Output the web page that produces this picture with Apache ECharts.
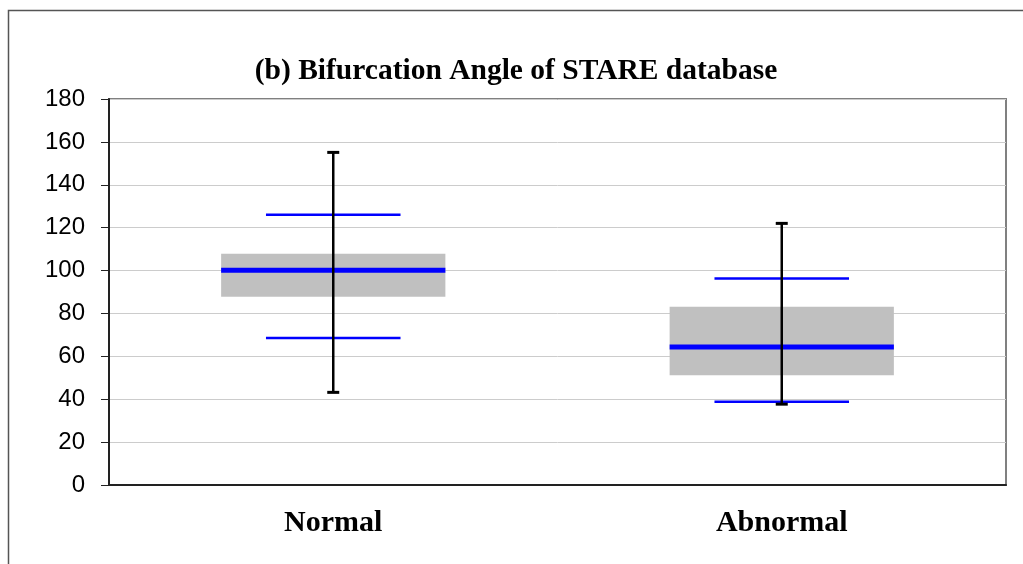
<!DOCTYPE html>
<html>
<head>
<meta charset="utf-8">
<style>
  html, body { margin: 0; padding: 0; background: #ffffff; }
  #chart { width: 1023px; height: 564px; }
</style>
<script src="https://cdn.jsdelivr.net/npm/echarts@6/dist/echarts.min.js"></script>
</head>
<body>
<div id="chart"></div>
<script>
// Bifurcation angle (degrees) for the two STARE groups
const categories = ['Normal', 'Abnormal'];
const boxLow     = [87.8, 51.2];   // lower edge of grey box
const boxHigh    = [107.8, 83.1];  // upper edge of grey box
const medianVal  = [100.2, 64.3];  // thick blue line
const sdLow      = [68.5, 38.8];   // lower thin blue line
const sdHigh     = [126.0, 96.3];  // upper thin blue line
const rangeMin   = [43.2, 37.7];   // bottom of black range bar
const rangeMax   = [155.1, 122.0]; // top of black range bar
const yTicks     = [0, 20, 40, 60, 80, 100, 120, 140, 160, 180];

const boxData = categories.map((c, i) => [
  i, boxLow[i], boxHigh[i], medianVal[i], sdLow[i], sdHigh[i], rangeMin[i], rangeMax[i]
]);

function renderBox(params, api) {
  const idx = api.value(0);
  const band = api.size([1, 0])[0];
  const cx = api.coord([idx, 0])[0];
  const yOf = v => api.coord([idx, v])[1];
  const boxHalf = band * 0.25;
  const sdHalf = band * 0.15;
  const capHalf = 6;
  const yBL = yOf(api.value(1)), yBH = yOf(api.value(2));
  const yMed = yOf(api.value(3));
  const ySL = yOf(api.value(4)), ySH = yOf(api.value(5));
  const yMin = yOf(api.value(6)), yMax = yOf(api.value(7));
  const blue = '#0000ff';
  return {
    type: 'group',
    children: [
      { type: 'rect', shape: { x: cx - boxHalf, y: yBH, width: boxHalf * 2, height: yBL - yBH },
        style: { fill: '#c0c0c0' } },
      { type: 'line', shape: { x1: cx - boxHalf, y1: yMed, x2: cx + boxHalf, y2: yMed },
        style: { stroke: blue, lineWidth: 5 } },
      { type: 'line', shape: { x1: cx - sdHalf, y1: ySH, x2: cx + sdHalf, y2: ySH },
        style: { stroke: blue, lineWidth: 2.5 } },
      { type: 'line', shape: { x1: cx - sdHalf, y1: ySL, x2: cx + sdHalf, y2: ySL },
        style: { stroke: blue, lineWidth: 2.5 } },
      { type: 'line', shape: { x1: cx, y1: yMax, x2: cx, y2: yMin },
        style: { stroke: '#000000', lineWidth: 2.5 } },
      { type: 'line', shape: { x1: cx - capHalf, y1: yMax, x2: cx + capHalf, y2: yMax },
        style: { stroke: '#000000', lineWidth: 3 } },
      { type: 'line', shape: { x1: cx - capHalf, y1: yMin, x2: cx + capHalf, y2: yMin },
        style: { stroke: '#000000', lineWidth: 3 } }
    ]
  };
}

const chart = echarts.init(document.getElementById('chart'), null, { renderer: 'canvas' });
chart.setOption({
  animation: false,
  backgroundColor: '#ffffff',
  title: {
    text: '(b) Bifurcation Angle of STARE database',
    left: 511,
    top: 51,
    textAlign: 'center',
    textStyle: { fontFamily: 'Liberation Serif', fontWeight: 'bold', fontSize: 29.5, color: '#000000' }
  },
  graphic: [{
    type: 'rect',
    shape: { x: 8.5, y: 10.5, width: 1030, height: 570 },
    style: { fill: 'none', stroke: '#555555', lineWidth: 1.5 },
    silent: true
  }],
  grid: {
    left: 109, right: 17, top: 99, bottom: 79,
    show: true, borderColor: '#808080', borderWidth: 2, backgroundColor: 'transparent'
  },
  xAxis: {
    type: 'category',
    data: categories,
    boundaryGap: true,
    axisLine: { lineStyle: { color: '#222222', width: 2 } },
    axisTick: { show: false },
    axisLabel: {
      margin: 23,
      fontFamily: 'Liberation Serif', fontWeight: 'bold', fontSize: 30, color: '#000000'
    },
    splitLine: { show: false }
  },
  yAxis: {
    type: 'value',
    min: yTicks[0],
    max: yTicks[yTicks.length - 1],
    interval: yTicks[1] - yTicks[0],
    axisLine: { show: true, lineStyle: { color: '#222222', width: 2 } },
    axisTick: { show: true, length: 8, lineStyle: { color: '#222222', width: 1 } },
    axisLabel: {
      margin: 24,
      fontFamily: 'Liberation Sans', fontSize: 24, color: '#000000'
    },
    splitLine: { show: true, lineStyle: { color: '#cccccc', width: 1 } }
  },
  series: [{
    type: 'custom',
    renderItem: renderBox,
    data: boxData,
    encode: { x: 0, y: [1, 2, 3, 4, 5, 6, 7] },
    z: 3
  }]
});
</script>
</body>
</html>
